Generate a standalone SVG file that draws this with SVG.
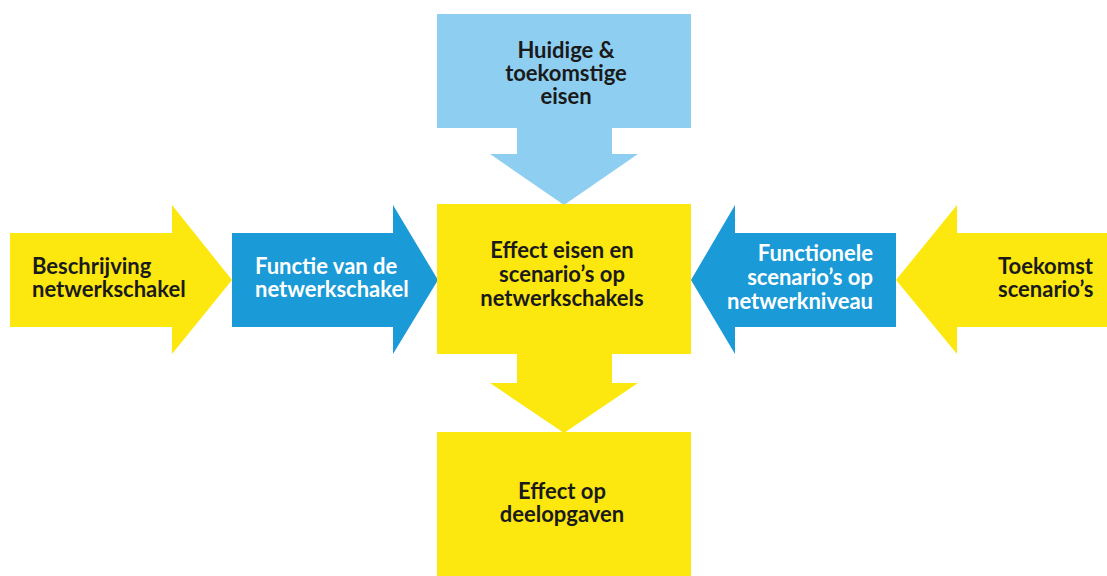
<svg xmlns="http://www.w3.org/2000/svg" width="1107" height="576" viewBox="0 0 1107 576">
<style>
.y{fill:#FCE80F}
.b{fill:#1A9AD7}
.lb{fill:#8ECFF1}
text{font-family:Lato,"Open Sans",sans-serif;font-weight:700;font-size:22px}
.dk{fill:#1a1a1a}
.wt{fill:#ffffff}
</style>
<rect width="1107" height="576" fill="#ffffff"/>
<g id="connectors">
<polygon id="arrow-top" class="lb" points="517,127 612,127 612,154 638,154 564,205 490,154 517,154"/>
<polygon id="arrow-bottom" class="y" points="517,353 612,353 612,383 638,383 564,433 490,383 517,383"/>
</g>
<g id="node-huidige">
<rect class="lb" x="437" y="14" width="254" height="114"/>
<text class="dk" text-anchor="middle"><tspan x="566" y="58">Huidige &amp;</tspan><tspan x="566" y="81">toekomstige</tspan><tspan x="566" y="104">eisen</tspan></text>
</g>
<g id="node-beschrijving">
<polygon class="y" points="10,233 172,233 172,205 232,280 172,354 172,327 10,327"/>
<text class="dk"><tspan x="32" y="274">Beschrijving</tspan><tspan x="32" y="297">netwerkschakel</tspan></text>
</g>
<g id="node-functie">
<polygon class="b" points="232,233 393,233 393,205 438,280 393,354 393,327 232,327"/>
<text class="wt"><tspan x="255" y="274">Functie van de</tspan><tspan x="255" y="297">netwerkschakel</tspan></text>
</g>
<g id="node-effect">
<rect class="y" x="437" y="204" width="254" height="150"/>
<text class="dk" text-anchor="middle"><tspan x="562" y="258">Effect eisen en</tspan><tspan x="562" y="282">scenario’s op</tspan><tspan x="562" y="306">netwerkschakels</tspan></text>
</g>
<g id="node-functionele">
<polygon class="b" points="896,233 735,233 735,205 691,280 735,354 735,327 896,327"/>
<text class="wt" text-anchor="end"><tspan x="873" y="261">Functionele</tspan><tspan x="873" y="285">scenario’s op</tspan><tspan x="873" y="309">netwerkniveau</tspan></text>
</g>
<g id="node-toekomst">
<polygon class="y" points="1107,233 957,233 957,205 896,280 957,354 957,327 1107,327"/>
<text class="dk"><tspan x="998" y="274">Toekomst</tspan><tspan x="998" y="297">scenario’s</tspan></text>
</g>
<g id="node-deelopgaven">
<rect class="y" x="437" y="432" width="254" height="144"/>
<text class="dk" text-anchor="middle"><tspan x="562" y="499">Effect op</tspan><tspan x="562" y="522">deelopgaven</tspan></text>
</g>
</svg>
